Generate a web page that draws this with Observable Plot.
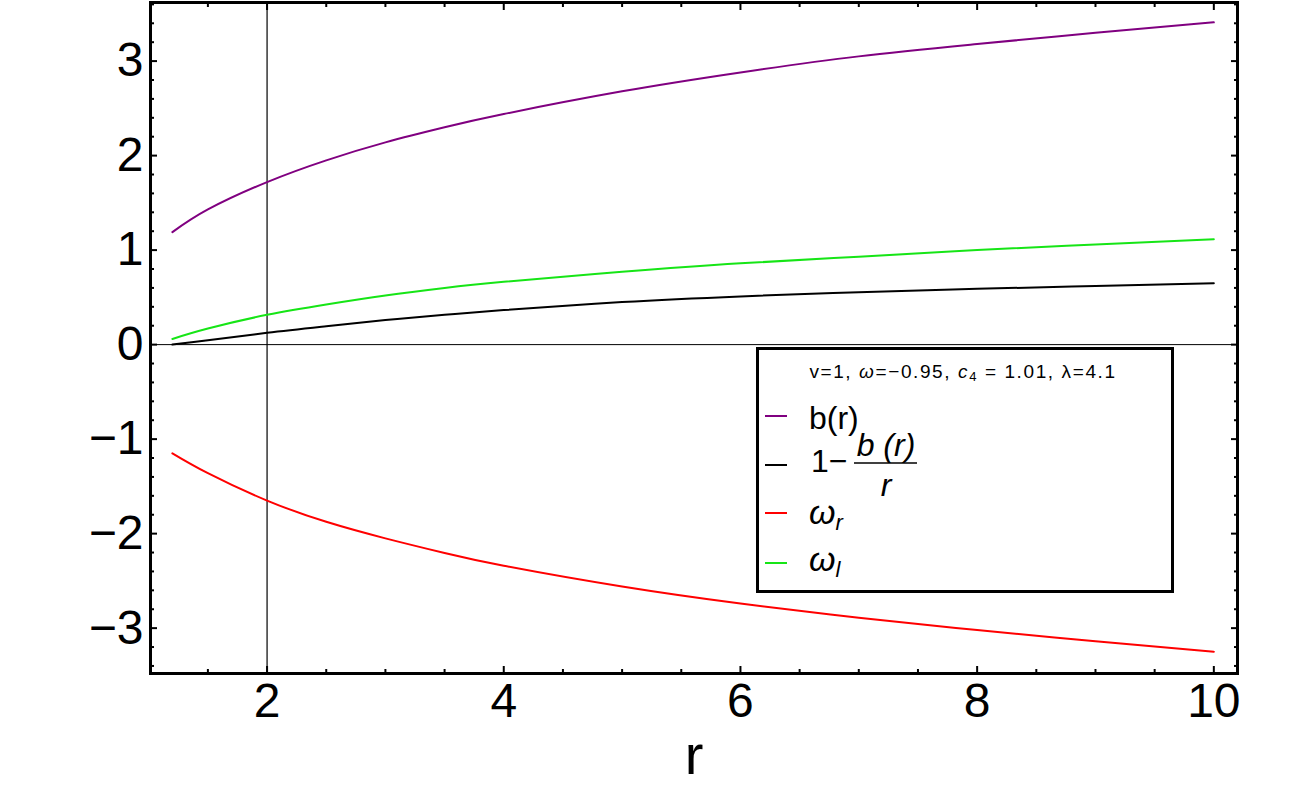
<!DOCTYPE html>
<html>
<head>
<meta charset="utf-8">
<script src="https://cdn.jsdelivr.net/npm/d3@7"></script>
<script src="https://cdn.jsdelivr.net/npm/@observablehq/plot@0.6"></script>
<style>
  html, body { margin: 0; padding: 0; background: #fff; }
  #wrap { position: relative; width: 1300px; height: 812px; font-family: "Liberation Sans", Arial, sans-serif; }
  #legend { position: absolute; left: 756px; top: 347px; }
</style>
</head>
<body>
<div id="wrap"></div>
<script>
// ---- data ----
const rValues      = [1.2, 1.5, 2, 2.5, 3, 3.5, 4, 5, 6, 7, 8, 9, 10];
const bValues      = [1.19, 1.43, 1.72, 1.95, 2.14, 2.30, 2.44, 2.68, 2.88, 3.05, 3.18, 3.30, 3.41];
const shapeValues  = [0.0, 0.045, 0.125, 0.195, 0.26, 0.315, 0.365, 0.45, 0.51, 0.555, 0.59, 0.62, 0.65];
const omegaRValues = [-1.15, -1.36, -1.65, -1.875, -2.05, -2.205, -2.34, -2.56, -2.74, -2.89, -3.02, -3.14, -3.25];
const omegaLValues = [0.06, 0.17, 0.315, 0.425, 0.52, 0.60, 0.665, 0.77, 0.86, 0.93, 1.0, 1.06, 1.115];

const seriesNames  = ["b(r)", "1-b(r)/r", "omega_r", "omega_l"];
const seriesColors = ["#800080", "#000000", "#ff0000", "#16e516"];
const seriesValues = [bValues, shapeValues, omegaRValues, omegaLValues];

const xMajorTicks = [2, 4, 6, 8, 10];
const xMinorTicks = [1.5, 2.5, 3, 3.5, 4.5, 5, 5.5, 6.5, 7, 7.5, 8.5, 9, 9.5];
const yMajorTicks = [-3, -2, -1, 0, 1, 2, 3];
const yMinorTicks = [-3.4, -3.2, -2.8, -2.6, -2.4, -2.2, -1.8, -1.6, -1.4, -1.2, -0.8, -0.6, -0.4, -0.2,
                     0.2, 0.4, 0.6, 0.8, 1.2, 1.4, 1.6, 1.8, 2.2, 2.4, 2.6, 2.8, 3.2, 3.4, 3.6];
const xLabel = "r";

// ---- chart ----
const intFmt = d3.format("d");
const blank = () => "";
const tickStyle = {strokeWidth: 2, label: null, tickFormat: blank};
const lineMarks = seriesValues.map((vals, k) =>
  Plot.line(vals, {x: (d, i) => rValues[i], y: d => d, stroke: seriesColors[k], strokeWidth: 2, curve: "natural"})
);

const chart = Plot.plot({
  width: 1300,
  height: 812,
  marginLeft: 150,
  marginRight: 63,
  marginTop: 2,
  marginBottom: 139,
  style: {fontFamily: "Liberation Sans, Arial, sans-serif", background: "white", color: "black"},
  x: {domain: [1.015, 10.2]},
  y: {domain: [-3.48, 3.62]},
  marks: [
    Plot.ruleX([2], {stroke: "black", strokeWidth: 1.2}),
    Plot.ruleY([0], {stroke: "black", strokeWidth: 1}),
    ...lineMarks,
    // tick labels
    Plot.axisX(xMajorTicks, {anchor: "bottom", tickSize: 0, tickPadding: 9, fontSize: 48, label: null, tickFormat: intFmt}),
    Plot.axisY(yMajorTicks, {anchor: "left", tickSize: 0, tickPadding: 7, fontSize: 48, label: null, tickFormat: intFmt}),
    // inward ticks on all four sides
    Plot.axisX(xMajorTicks, {anchor: "bottom", tickSize: -7, ...tickStyle}),
    Plot.axisX(xMinorTicks, {anchor: "bottom", tickSize: -4, ...tickStyle}),
    Plot.axisX(xMajorTicks, {anchor: "top", tickSize: -7, ...tickStyle}),
    Plot.axisX(xMinorTicks, {anchor: "top", tickSize: -4, ...tickStyle}),
    Plot.axisY(yMajorTicks, {anchor: "left", tickSize: -7, ...tickStyle}),
    Plot.axisY(yMinorTicks, {anchor: "left", tickSize: -4, ...tickStyle}),
    Plot.axisY(yMajorTicks, {anchor: "right", tickSize: -7, ...tickStyle}),
    Plot.axisY(yMinorTicks, {anchor: "right", tickSize: -4, ...tickStyle}),
    Plot.frame({stroke: "black", strokeWidth: 3}),
    Plot.text([xLabel], {text: d => d, frameAnchor: "bottom", dy: 100, fontSize: 56})
  ]
});
document.getElementById("wrap").appendChild(chart);

// ---- legend (overlay) ----
const W = 418, H = 246;
const leg = d3.select("#wrap").append("svg")
  .attr("id", "legend").attr("width", W).attr("height", H)
  .style("font-family", "Liberation Sans, Arial, sans-serif");
leg.append("rect").attr("x", 1.5).attr("y", 1.5).attr("width", W - 3).attr("height", H - 3)
  .attr("fill", "white").attr("stroke", "black").attr("stroke-width", 3);

// header
const hdr = leg.append("text").attr("x", 207).attr("y", 31).attr("text-anchor", "middle")
  .attr("font-size", 19).attr("letter-spacing", 1.6);
hdr.append("tspan").text("v=1, ");
hdr.append("tspan").attr("font-style", "italic").text("ω");
hdr.append("tspan").text("=−0.95, ");
hdr.append("tspan").attr("font-style", "italic").text("c");
hdr.append("tspan").attr("font-size", 13).attr("dy", 3).text("4");
hdr.append("tspan").attr("dy", -3).text(" = 1.01, λ=4.1");

const rowY = [69, 118, 166, 216];
seriesColors.forEach((c, k) => {
  leg.append("line").attr("x1", 9).attr("x2", 31).attr("y1", rowY[k]).attr("y2", rowY[k])
    .attr("stroke", c).attr("stroke-width", 2);
});

// b(r)
leg.append("text").attr("x", 53).attr("y", 82).attr("font-size", 32).text("b(r)");
// 1 - b(r)/r
leg.append("text").attr("x", 55).attr("y", 125).attr("font-size", 32).text("1−");
leg.append("text").attr("x", 130).attr("y", 109).attr("font-size", 32).attr("font-style", "italic")
  .attr("text-anchor", "middle").text("b (r)");
leg.append("line").attr("x1", 98).attr("x2", 161).attr("y1", 116).attr("y2", 116)
  .attr("stroke", "black").attr("stroke-width", 1.5);
leg.append("text").attr("x", 130).attr("y", 149).attr("font-size", 32).attr("font-style", "italic")
  .attr("text-anchor", "middle").text("r");
// omega_r
const wr = leg.append("text").attr("x", 53).attr("y", 177).attr("font-size", 34).attr("font-style", "italic");
wr.append("tspan").text("ω");
wr.append("tspan").attr("font-size", 22).attr("dy", 6).text("r");
// omega_l
const wl = leg.append("text").attr("x", 53).attr("y", 224).attr("font-size", 34).attr("font-style", "italic");
wl.append("tspan").text("ω");
wl.append("tspan").attr("font-size", 22).attr("dy", 6).text("l");
</script>
</body>
</html>
